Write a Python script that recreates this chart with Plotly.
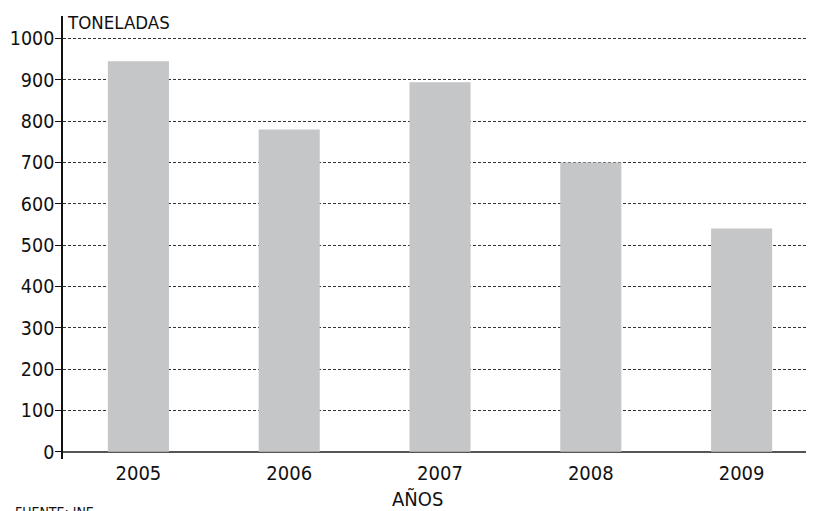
import plotly.graph_objects as go

years = ["2005", "2006", "2007", "2008", "2009"]
toneladas = [945, 780, 894, 700, 540]
y_ticks = [0, 100, 200, 300, 400, 500, 600, 700, 800, 900, 1000]

FONT = "Liberation Sans Narrow, DejaVu Sans Condensed, Arial Narrow, sans-serif"
W, H = 814, 511
# the page body adds an 8px offset; figure coords = page coords - 8
L, R, T, B = 55, 8, 8, 60
PW, PH = W - L - R, H - T - B

fig = go.Figure(go.Bar(x=years, y=toneladas, marker=dict(color="#c5c6c8", line=dict(width=0)),
                       hoverinfo="x+y"))

fig.update_layout(
    width=W, height=H,
    margin=dict(l=L, r=R, t=T, b=B, autoexpand=False),
    paper_bgcolor="white", plot_bgcolor="white",
    bargap=0.595,
    showlegend=False,
    font=dict(family=FONT, size=20, color="#111"),
    xaxis=dict(type="category", range=[-0.5, 4.48], showgrid=False, showline=False,
               zeroline=False, ticks="", automargin=False, ticklabelstandoff=0,
               tickfont=dict(size=20, color="#111")),
    yaxis=dict(range=[-17.7, 1054.6], tickmode="array", tickvals=y_ticks,
               ticktext=[str(v) for v in y_ticks], automargin=False,
               showgrid=True, gridcolor="#333", gridwidth=1, griddash="3px,2px",
               zeroline=True, zerolinecolor="#555", zerolinewidth=2,
               showline=True, linecolor="#111", linewidth=1.5,
               ticks="outside", ticklen=6, tickcolor="#111", tickwidth=1.2,
               ticklabelstandoff=-3,
               tickfont=dict(size=19.5, color="#111")),
    annotations=[
        dict(text="TONELADAS", xref="paper", yref="paper", x=0.002, y=1.0 + 6 / PH,
             xanchor="left", yanchor="top", showarrow=False, font=dict(size=18.5, color="#111")),
        dict(text="AÑOS", xref="paper", yref="paper", x=(409 - L) / PW, y=-(491 - (H - B)) / PH,
             xanchor="center", yanchor="middle", showarrow=False, font=dict(size=20, color="#111")),
        dict(text="FUENTE: INE", xref="paper", yref="paper", x=(5 - L) / PW,
             y=-(494 - (H - B)) / PH,
             xanchor="left", yanchor="top", showarrow=False, font=dict(size=14, color="#111")),
    ],
)

fig.write_html("out.html")
